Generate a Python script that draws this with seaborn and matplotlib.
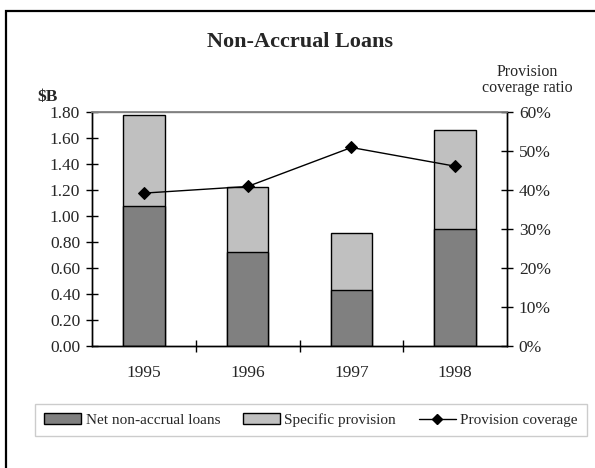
import matplotlib
matplotlib.use("Agg")
import matplotlib.pyplot as plt
import seaborn as sns
import pandas as pd
import numpy as np
from matplotlib.patches import Rectangle, Patch
from matplotlib.lines import Line2D
from matplotlib.ticker import FixedLocator, FuncFormatter

years = ["1995", "1996", "1997", "1998"]
net_loans = [1.08, 0.72, 0.43, 0.90]
specific_provision = [0.70, 0.50, 0.44, 0.76]
coverage_pct = [39.2, 40.9, 50.9, 46.1]

left_ticks = [0.0, 0.2, 0.4, 0.6, 0.8, 1.0, 1.2, 1.4, 1.6, 1.8]
right_ticks = [0, 10, 20, 30, 40, 50, 60]

sns.set_theme(style="white")
plt.rcParams["font.family"] = ["Liberation Serif", "DejaVu Serif"]

df = pd.DataFrame({
    "year": years,
    "net": net_loans,
    "prov": specific_provision,
    "cov": coverage_pct,
})
df["total"] = df["net"] + df["prov"]

DARK = "#808080"
LIGHT = "#C0C0C0"

fig = plt.figure(figsize=(5.95, 4.68), dpi=100)
ax = fig.add_axes([92 / 595, 1 - 346 / 468, (507 - 92) / 595, (346 - 112) / 468])

sns.barplot(data=df, x="year", y="total", color=LIGHT, width=0.4,
            edgecolor="black", linewidth=1.0, saturation=1, ax=ax)
sns.barplot(data=df, x="year", y="net", color=DARK, width=0.4,
            edgecolor="black", linewidth=1.0, saturation=1, ax=ax)

ax.set_xlim(-0.5, 3.5)
ax.set_ylim(0, 1.8)
ax.set_xlabel("")
ax.set_ylabel("")
ax.yaxis.set_major_locator(FixedLocator(left_ticks))
ax.yaxis.set_major_formatter(FuncFormatter(lambda v, p: f"{v:.2f}"))
ax.tick_params(axis="y", which="major", direction="inout", length=9, width=1,
               color="black", labelsize=12.5, pad=4, left=True)
ax.set_xticks(range(len(years)))
ax.set_xticklabels(years)
ax.tick_params(axis="x", which="major", length=0, labelsize=12.5, pad=14)
ax.xaxis.set_minor_locator(FixedLocator([0.5, 1.5, 2.5]))
ax.tick_params(axis="x", which="minor", direction="inout", length=9, width=1,
               color="black", bottom=True)

for s in ["left", "bottom", "right"]:
    ax.spines[s].set_color("black")
    ax.spines[s].set_linewidth(1.0)
ax.spines["top"].set_color("#808080")
ax.spines["top"].set_linewidth(1.0)

ax2 = ax.twinx()
sns.pointplot(data=df, x="year", y="cov", color="black", markers="D",
              linestyles="-", ax=ax2, markersize=6, linewidth=1.0)
ax2.set_xlim(-0.5, 3.5)
ax2.set_ylim(0, 60)
ax2.set_ylabel("")
ax2.set_xlabel("")
ax2.yaxis.set_major_locator(FixedLocator(right_ticks))
ax2.yaxis.set_major_formatter(FuncFormatter(lambda v, p: f"{int(v)}%"))
ax2.tick_params(axis="y", which="major", direction="inout", length=9, width=1,
                color="black", labelsize=12.5, pad=4, right=True)
for s in ["left", "bottom", "right"]:
    ax2.spines[s].set_color("black")
    ax2.spines[s].set_linewidth(1.0)
ax2.spines["top"].set_color("#808080")

fig.text(300 / 595, 1 - 42 / 468, "Non-Accrual Loans", ha="center", va="center",
         fontsize=16, fontweight="bold")
fig.text(527 / 595, 1 - 72 / 468, "Provision", ha="center", va="center", fontsize=11.5)
fig.text(527 / 595, 1 - 88 / 468, "coverage ratio", ha="center", va="center", fontsize=11.5)
fig.text(37 / 595, 1 - 97 / 468, "$B", ha="left", va="center", fontsize=12.5,
         fontweight="bold")

handles = [
    Patch(facecolor=DARK, edgecolor="black", linewidth=1.0, label="Net non-accrual loans"),
    Patch(facecolor=LIGHT, edgecolor="black", linewidth=1.0, label="Specific provision"),
    Line2D([0], [0], color="black", marker="D", markersize=5, linewidth=1.0,
           label="Provision coverage"),
]
leg = fig.legend(handles=handles, loc="center", ncol=3,
                 bbox_to_anchor=(311 / 595, 1 - 420 / 468), frameon=True,
                 fontsize=11, handlelength=2.4, handleheight=0.7,
                 columnspacing=1.5, handletextpad=0.3, borderpad=0.6,
                 fancybox=False)
leg.get_frame().set_edgecolor("#C0C0C0")
leg.get_frame().set_linewidth(1.0)

frame = Rectangle((6 / 595, -0.2), 1.2, 1.2 - 11 / 468, transform=fig.transFigure,
                  fill=False, edgecolor="black", linewidth=1.6, clip_on=False)
fig.patches.append(frame)

fig.savefig("out.png", dpi=100)
